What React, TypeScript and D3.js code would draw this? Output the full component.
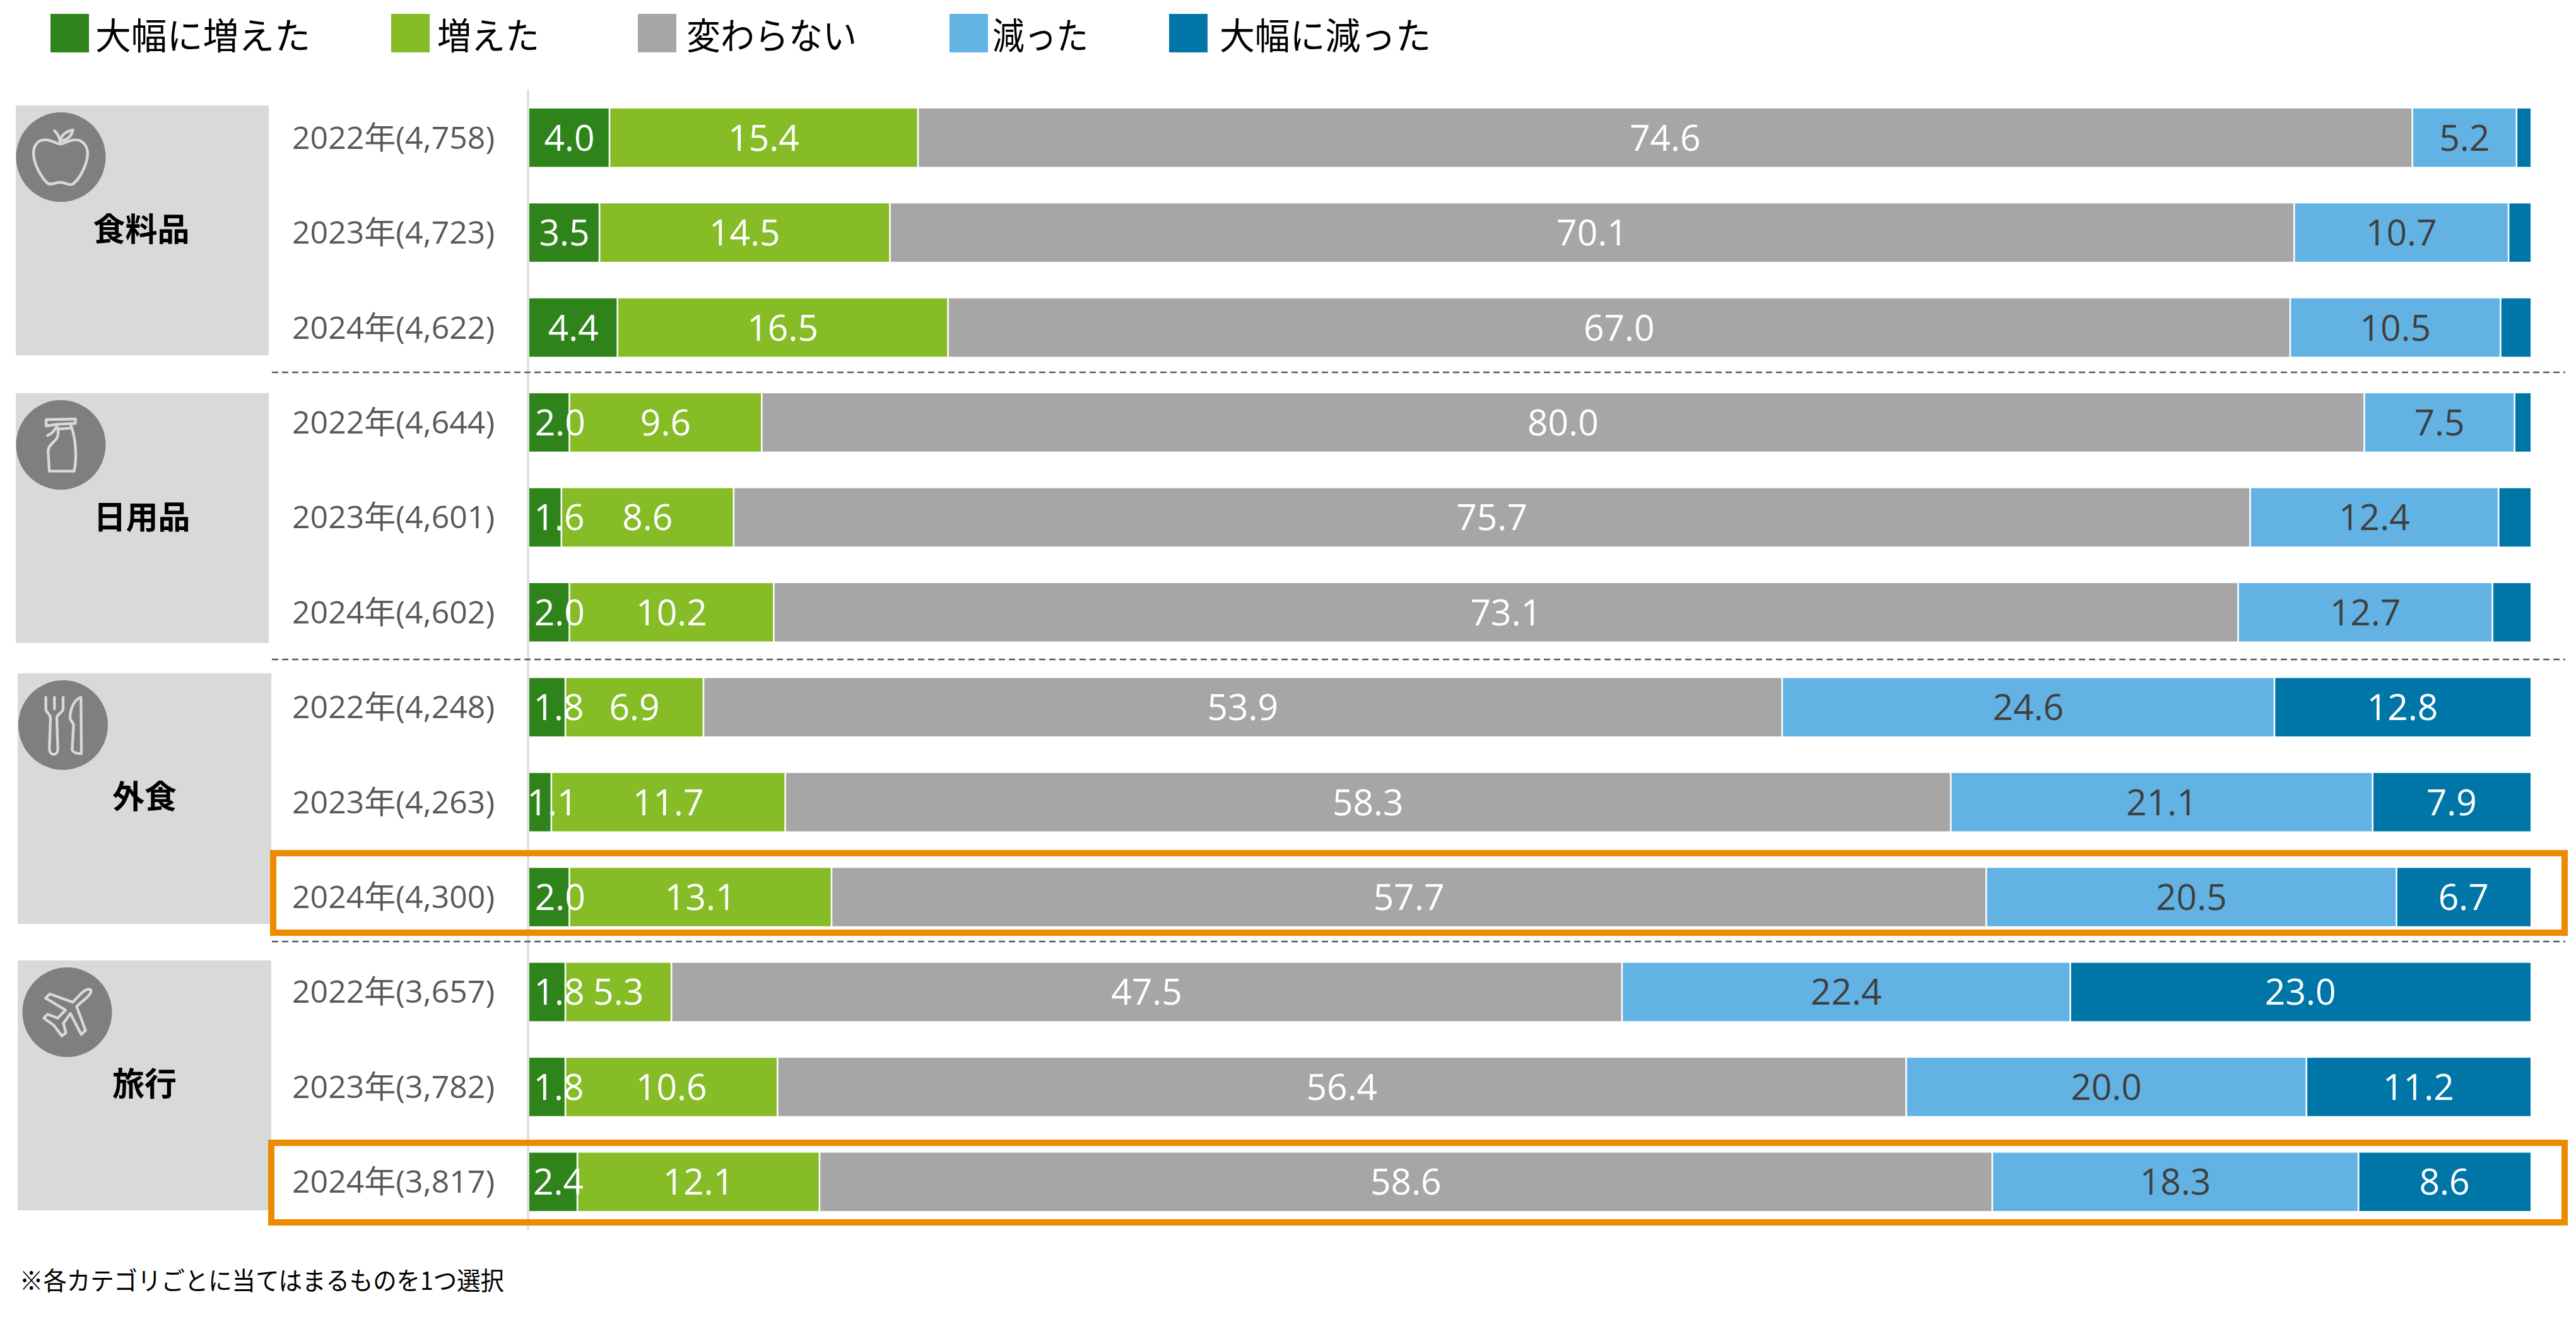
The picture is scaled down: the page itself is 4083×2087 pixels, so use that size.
import React from 'react';
import * as d3 from 'd3';

// Survey result, % of respondents. The last series is unlabelled on small rows.
const groups = ['食料品', '日用品', '外食', '旅行'];
const years = ['2022年', '2023年', '2024年'];
const sampleSizes = ['4,758', '4,723', '4,622', '4,644', '4,601', '4,602', '4,248', '4,263', '4,300', '3,657', '3,782', '3,817'];
const seriesNames = ['大幅に増えた', '増えた', '変わらない', '減った', '大幅に減った'];
const muchMore = [4.0, 3.5, 4.4, 2.0, 1.6, 2.0, 1.8, 1.1, 2.0, 1.8, 1.8, 2.4];
const more = [15.4, 14.5, 16.5, 9.6, 8.6, 10.2, 6.9, 11.7, 13.1, 5.3, 10.6, 12.1];
const same = [74.6, 70.1, 67.0, 80.0, 75.7, 73.1, 53.9, 58.3, 57.7, 47.5, 56.4, 58.6];
const fewer = [5.2, 10.7, 10.5, 7.5, 12.4, 12.7, 24.6, 21.1, 20.5, 22.4, 20.0, 18.3];
const muchFewer = [0.7, 1.1, 1.5, 0.8, 1.6, 1.9, 12.8, 7.9, 6.7, 23.0, 11.2, 8.6];
const highlighted = [8, 11];
const footnote = '※各カテゴリごとに当てはまるものを1つ選択';

const colors = ['#2E841A', '#86BC25', '#A6A6A6', '#62B3E4', '#0076A8'];
const labelColors = ['#fff', '#fff', '#fff', '#404040', '#fff'];
const FONT = '"Open Sans", "Noto Sans CJK JP", sans-serif';
const CJK = '"Noto Sans CJK JP", sans-serif';
const ICON = '#D9D9D9';

// hand-moved labels of the narrow first segment, as in the original slide
const labelNudge = [0, 0, 0, 17, 22, 16, 18, 19, 17, 19, 18, 8];

const legendX = [80, 620, 1011, 1505, 1853];
const legendTextX = [151, 693, 1088, 1573, 1933];
const legendTextW = [341, 162, 270, 152, 335];

// icon outlines are in a 450 box of crop pixels, 3 per real pixel
const icons = [
  ['M212,160C190,158 170,138 135,140C100,142 84,175 85,205C86,260 125,320 150,345C165,358 185,342 212,342C240,342 255,360 272,350C300,330 342,260 342,205C342,170 320,140 285,140C255,138 235,158 212,160Z',
    'M185,97C195,105 210,120 212,158', 'M214,135C225,108 250,97 272,93C268,115 250,140 220,143'],
  ['M145,100L285,97L283,118L195,122L145,130Z', 'M190,140C180,160 165,170 152,175', 'M200,145L262,140',
    'M262,125C290,200 290,290 278,345L160,345L155,260C150,225 175,215 195,190C205,170 205,150 195,125'],
  ['M143,90L143,145C143,165 165,165 165,190L160,335C160,370 200,370 200,335L195,190C195,165 225,165 225,145L225,90', 'M184,90L184,145',
    'M310,90C280,100 258,140 258,190L275,220L268,340C275,355 300,358 312,358Z'],
  ['M335,115C315,105 295,125 250,175L140,135L120,155L215,212L178,250L130,232L112,250L160,285L198,335L217,320L205,275L238,228L290,328L310,308L268,195C290,170 345,140 335,115Z'],
];
const panels = [
  { x: 25, y: 167, w: 401, h: 396, cx: 96.5, cy: 249, lx: 224, ly: 382, ox: 215, oy: 222 },
  { x: 25, y: 623, w: 401, h: 396, cx: 96.5, cy: 705, lx: 225, ly: 838, ox: 215, oy: 220 },
  { x: 28, y: 1067, w: 402, h: 397, cx: 100, cy: 1149, lx: 229, ly: 1281, ox: 225, oy: 222 },
  { x: 28, y: 1522, w: 402, h: 396, cx: 106.5, cy: 1604, lx: 229, ly: 1736, ox: 223, oy: 222 },
];
const dividers = [590, 1045, 1492];
const boxes = [
  { x: 433, y: 1352, h: 126 },
  { x: 430, y: 1811, h: 126 },
];

export default function App() {
  const width = 4083;
  const height = 2087;
  const gap = 2.6;

  const rows = sampleSizes.map((n, i) => ({
    key: i,
    label: `${years[i % 3]}(${n})`,
    0: muchMore[i], 1: more[i], 2: same[i], 3: fewer[i], 4: muchFewer[i],
  }));
  const stacked = d3.stack<any>().keys([0, 1, 2, 3, 4] as any).offset(d3.stackOffsetExpand)(rows);

  const x = d3.scaleLinear().domain([0, 1]).range([839, 4011]);
  const y = d3.scaleBand<number>().domain(rows.map(r => r.key)).range([114, 1977]).padding(0.385);
  const bh = y.bandwidth();

  return (
    <svg width={width} height={height} viewBox={`0 0 ${width} ${height}`}
      style={{ position: 'absolute', left: 0, top: 0, background: '#fff', display: 'block' }}>
      {/* Legend */}
      {seriesNames.map((name, i) => (
        <g key={name}>
          <rect x={legendX[i]} y={22} width={61} height={61} fill={colors[i]} />
          <text x={legendTextX[i]} y={78} fontFamily={CJK} fontSize={58} fill="#000"
            textLength={legendTextW[i]} lengthAdjust="spacingAndGlyphs">{name}</text>
        </g>
      ))}

      {/* Category panels */}
      {groups.map((g, i) => {
        const p = panels[i];
        return (
          <g key={g}>
            <rect x={p.x} y={p.y} width={p.w} height={p.h} fill="#D9D9D9" />
            <circle cx={p.cx} cy={p.cy} r={71} fill="#7F7F7F" />
            <g transform={`translate(${p.cx},${p.cy}) scale(${1 / 3}) translate(${-p.ox},${-p.oy})`}
              fill="none" stroke={ICON} strokeWidth={13} strokeLinejoin="round" strokeLinecap="round">
              {icons[i].map((d, j) => <path key={j} d={d} />)}
            </g>
            <text x={p.lx} y={p.ly} textAnchor="middle" fontFamily={CJK} fontWeight={700} fontSize={51} fill="#000">{g}</text>
          </g>
        );
      })}

      {/* Axis line */}
      <line x1={837} x2={837} y1={142} y2={1949} stroke="#D9D9D9" strokeWidth={3} />

      {/* Dashed separators */}
      {dividers.map(d => (
        <line key={d} x1={431} x2={4066} y1={d} y2={d} stroke="#58595B" strokeWidth={2.5} strokeDasharray="10 6" />
      ))}

      {/* Row labels */}
      {rows.map(r => (
        <text key={r.key} x={463} y={y(r.key)! + bh / 2 + 17.5} fontFamily={FONT} fontSize={50} fill="#595959">{r.label}</text>
      ))}

      {/* Stacked bars */}
      {stacked.map((layer, s) => (
        <g key={s} fill={colors[s]}>
          {layer.map((d, i) => {
            const x0 = x(d[0]) + (s > 0 ? gap / 2 : 0);
            const x1 = x(d[1]) - (s < 4 ? gap / 2 : 0);
            return <rect key={i} x={x0} y={y(i)} width={x1 - x0} height={bh} />;
          })}
        </g>
      ))}

      {/* Value labels */}
      {stacked.map((layer, s) => (
        <g key={s} fill={labelColors[s]} fontFamily={FONT} fontSize={57} textAnchor="middle">
          {layer.map((d, i) => {
            const v = (rows[i] as any)[s] as number;
            if (s === 4 && v < 3) return null;
            const cx = (x(d[0]) + x(d[1])) / 2 + (s === 0 ? labelNudge[i] : 0);
            return <text key={i} x={cx} y={y(i)! + bh / 2 + 20.5}>{v.toFixed(1)}</text>;
          })}
        </g>
      ))}

      {/* Highlight frames */}
      {boxes.map((b, i) => (
        <rect key={i} x={b.x} y={b.y} width={4065 - b.x} height={b.h} fill="none" stroke="#ED8B00" strokeWidth={10} />
      ))}

      <text transform="translate(31,2044) scale(0.935,1)" fontFamily={CJK} fontSize={40} fill="#000">{footnote}</text>
    </svg>
  );
}
